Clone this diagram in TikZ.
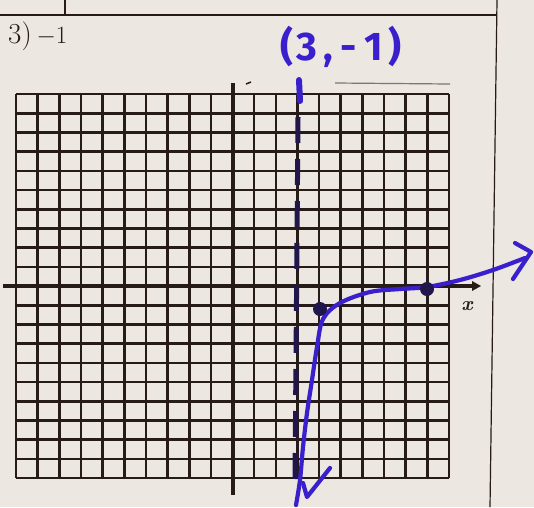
\documentclass[tikz,border=0pt]{standalone}
\usepackage{fontspec}
\newfontfamily\handfont{Fira Sans}
\definecolor{paper}{RGB}{236,231,224}
\definecolor{ink}{RGB}{38,27,22}
\definecolor{pen}{RGB}{58,32,205}
\definecolor{darkpen}{RGB}{32,22,75}
\tikzset{
  gridline/.style={draw=ink, line width=2.6pt},
  axisline/.style={draw=ink, line width=4.2pt},
  border/.style={draw=ink, line width=1.2pt},
  penline/.style={draw=pen, line width=4.2pt, line cap=round, line join=round},
  asym/.style={draw=darkpen, line width=5pt, dash pattern=on 26pt off 16pt},
  dotmark/.style={circle, fill=darkpen, inner sep=0pt, minimum size=14pt},
}
\begin{document}
\begin{tikzpicture}[x=1pt,y=-1pt]
\fill[paper] (0,0) rectangle (534,507);
\useasboundingbox (0,0) rectangle (534,507);
% worksheet borders
\draw[border] (0,15) -- (497,15);
\draw[border] (65,0) -- (65,15);
\draw[border] (497,0) -- (490,507);
% problem label
\node[anchor=base west, inner sep=0pt, text=ink, font=\fontsize{29}{32}\selectfont] (lbl) at (8,43) {3)\,$-1$};
% handwritten point
\node[anchor=base, inner sep=0pt, text=pen, font=\handfont\bfseries\fontsize{40}{42}\selectfont] (pt) at (341,60) {(\kern3pt3\kern6pt,\kern8pt-\kern7pt1\kern6pt)};
% grid
\foreach \i in {0,...,20} {
  \draw[gridline] ({16+\i*21.65},94) -- ({16+\i*21.65},478);
  \draw[gridline] (16,{94+\i*19.2}) -- (449,{94+\i*19.2});
}
% axes
\coordinate (xl) at (3,286);
\coordinate (xr) at (472,286);
\coordinate (yt) at (233,83);
\coordinate (yb) at (233,495);
\draw[axisline] (xl) -- (xr);
\fill[ink] (xr) ++(0,-5) -- ++(9,5) -- ++(-9,5) -- cycle;
\draw[axisline] (yt) -- (yb);
\node[text=ink, font=\bfseries\itshape\fontsize{20}{22}\selectfont, inner sep=0pt] (xlab) at (467,306) {x};
% small printed marks
\draw[ink, line width=1.5pt] (246,84) -- (251,82);
\draw[ink!60, line width=1.2pt] (335,83) -- (450,84);
% asymptote
\draw[pen, line width=6pt, line cap=round] (299,80) -- (300,101);
\draw[asym] (298,117) -- (295,480);
% curve
\draw[penline] plot[smooth, tension=0.55] coordinates {(296,505) (300,480) (303,447) (307,413) (312,380) (317,347) (323,319) (340,303) (370,292) (400,289) (427,287) (460,280) (493,270) (525,258)};
\draw[penline] (515,243) -- (531,252) -- (513,279);
\draw[penline] (303,483) -- (307,497) -- (330,468);
% points
\node[dotmark] (p1) at (320,309) {};
\node[dotmark] (p2) at (427,289) {};
\end{tikzpicture}
\end{document}
